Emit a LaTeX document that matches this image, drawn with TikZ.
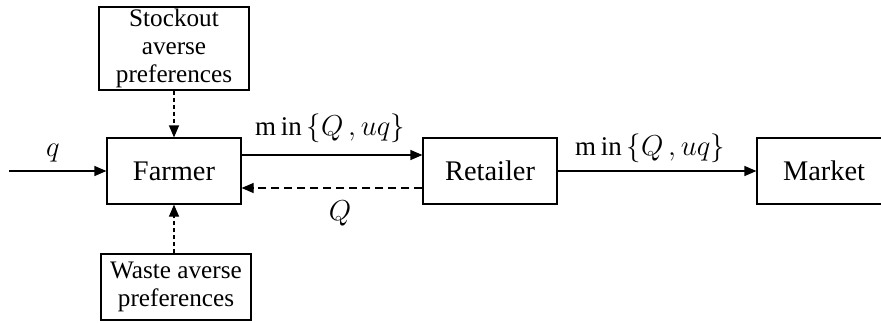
\documentclass[tikz,border=0pt]{standalone}
\usepackage{fontspec}
\setmainfont{Liberation Serif}
\usetikzlibrary{arrows.meta}

\tikzset{
    block/.style={draw, line width=0.6pt, minimum width=67pt, minimum height=33pt,
        inner sep=0pt, font=\fontsize{14.2}{17}\selectfont},
    prefbox/.style={draw, line width=0.6pt, minimum width=75pt, minimum height=33pt,
        inner sep=0pt, align=center, font=\fontsize{12.6}{14}\selectfont},
    flow/.style={-{Triangle[length=6pt, width=5pt]}, line width=0.6pt},
    back/.style={flow, dash pattern=on 4pt off 2.5pt},
    pref/.style={flow, dash pattern=on 2pt off 1.5pt},
    lbl/.style={font=\fontsize{13.5}{16}\selectfont},
}
\newcommand{\minqu}{$\mathrm{m\,in}\,\bigl\{Q\,,uq\bigr\}$}

\begin{document}
\begin{tikzpicture}[x=0.5pt, y=-0.5pt]
    \useasboundingbox (0,0) rectangle (881,322);

    % boxes
    \node[prefbox, minimum height=41.5pt] (stockout) at (174,48.5)
        {Stockout\\averse\\preferences};
    \node[block] (farmer) at (174,171) {Farmer};
    \node[prefbox] (waste) at (176,287) {Waste averse\\preferences};
    \node[block] (retailer) at (490,171) {Retailer};
    \node[block] (market) at (824,171) {Market};
    \coordinate (input) at (9,171);

    % flows
    \draw[flow] (input) -- (farmer);
    \node[lbl] (qin) at (53,153) {$q$};
    \draw[flow] ([yshift=8pt]farmer.east) -- ([yshift=8pt]retailer.west);
    \node[lbl] (supply) at (330,128) {\minqu};
    \draw[back] ([yshift=-8.5pt]retailer.west) -- ([yshift=-8.5pt]farmer.east);
    \node[lbl] (order) at (340,213) {$Q$};
    \draw[flow] (retailer) -- (market);
    \node[lbl] (sales) at (650,148) {\minqu};

    % preferences
    \draw[pref] (stockout) -- (farmer);
    \draw[pref] (waste.north -| farmer.south) -- (farmer.south);
\end{tikzpicture}
\end{document}
